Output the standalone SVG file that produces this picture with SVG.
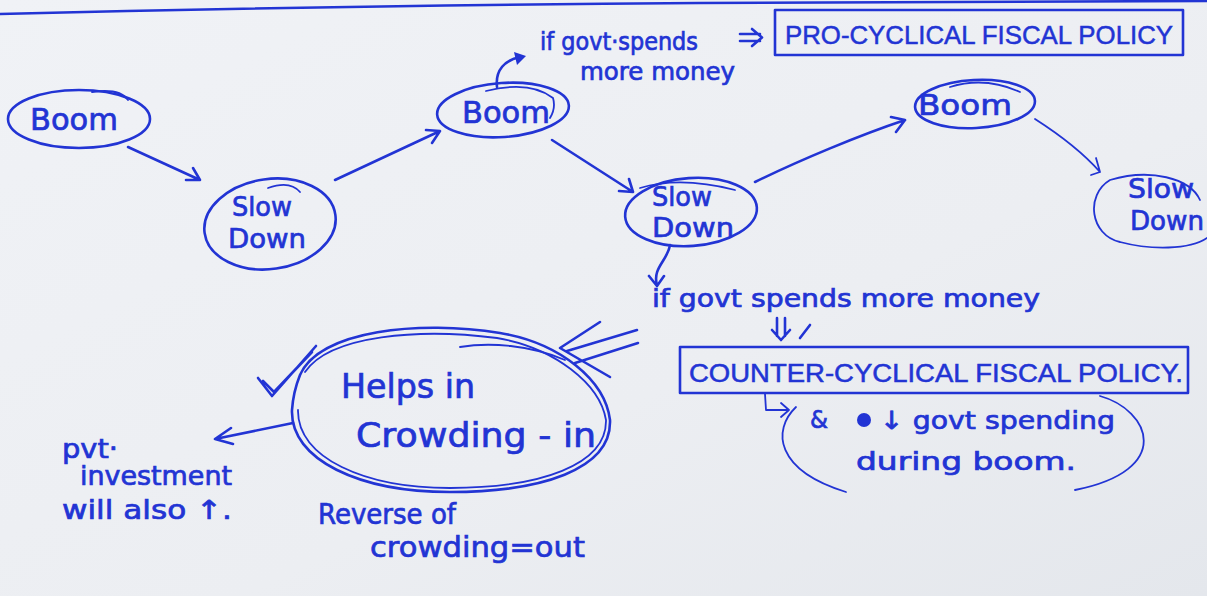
<svg xmlns="http://www.w3.org/2000/svg" width="1207" height="596" viewBox="0 0 1207 596">
  <defs>
    <linearGradient id="paper" x1="0" y1="0" x2="1" y2="1">
      <stop offset="0" stop-color="#f0f2f6"/>
      <stop offset="0.6" stop-color="#eceef2"/>
      <stop offset="1" stop-color="#e4e7ec"/>
    </linearGradient>
  </defs>
  <style>
    .ink { fill: none; stroke: #2234d4; stroke-width: 2.6; stroke-linecap: round; stroke-linejoin: round; }
    .thin { fill: none; stroke: #2234d4; stroke-width: 1.8; stroke-linecap: round; stroke-linejoin: round; }
    .dot { fill: #2234d4; }
    .hand { font-family: "DejaVu Sans", "Liberation Sans", sans-serif; fill: #2234d4; stroke: #2234d4; stroke-width: 0.7; }
    .caps { font-family: "Liberation Sans", "DejaVu Sans", sans-serif; fill: #2234d4; stroke: #2234d4; stroke-width: 0.5; }
  </style>

  <!-- sheet -->
  <rect width="1207" height="596" fill="url(#paper)"/>
  <path class="ink" d="M0 14 C 200 9, 420 5, 700 3 S 1100 1, 1207 1"/>

  <!-- cycle nodes -->
  <g id="boom-1">
    <ellipse class="ink" cx="79" cy="119" rx="71" ry="29"/>
    <path class="thin" d="M92 92 Q 120 88 128 100"/>
    <text class="hand" x="30" y="130" font-size="31" textLength="88" lengthAdjust="spacingAndGlyphs">Boom</text>
  </g>

  <g id="slowdown-1">
    <ellipse class="ink" cx="270" cy="224" rx="66" ry="45" transform="rotate(-8 270 224)"/>
    <path class="thin" d="M268 188 Q 290 180 300 192"/>
    <text class="hand" x="232" y="216" font-size="27" textLength="60" lengthAdjust="spacingAndGlyphs">Slow</text>
    <text class="hand" x="228" y="248" font-size="27" textLength="78" lengthAdjust="spacingAndGlyphs">Down</text>
  </g>

  <g id="boom-2">
    <ellipse class="ink" cx="503" cy="110" rx="66" ry="27" transform="rotate(-4 503 110)"/>
    <path class="thin" d="M486 91 Q 530 80 553 98 Q 556 108 550 118"/>
    <text class="hand" x="462" y="123" font-size="30" textLength="88" lengthAdjust="spacingAndGlyphs">Boom</text>
  </g>

  <g id="slowdown-2">
    <ellipse class="ink" cx="691" cy="212" rx="66" ry="34" transform="rotate(-4 691 212)"/>
    <path class="thin" d="M640 188 Q 680 176 735 190"/>
    <text class="hand" x="652" y="206" font-size="27" textLength="60" lengthAdjust="spacingAndGlyphs">Slow</text>
    <text class="hand" x="652" y="237" font-size="27" textLength="82" lengthAdjust="spacingAndGlyphs">Down</text>
  </g>

  <g id="boom-3">
    <ellipse class="ink" cx="975" cy="104" rx="60" ry="24" transform="rotate(-3 975 104)"/>
    <path class="thin" d="M950 87 Q 985 76 1020 92"/>
    <text class="hand" x="918" y="115" font-size="28" textLength="94" lengthAdjust="spacingAndGlyphs">Boom</text>
  </g>

  <g id="slowdown-3">
    <path class="thin" d="M1200 200 C 1190 178, 1150 168, 1110 180 C 1085 195, 1090 235, 1120 242 C 1150 250, 1190 250, 1207 238"/>
    <text class="hand" x="1128" y="198" font-size="27" textLength="66" lengthAdjust="spacingAndGlyphs">Slow</text>
    <text class="hand" x="1130" y="230" font-size="27" textLength="74" lengthAdjust="spacingAndGlyphs">Down</text>
  </g>

  <!-- policy labels -->
  <g id="pro-cyclical-note">
    <text class="hand" x="540" y="50" font-size="24" textLength="158" lengthAdjust="spacingAndGlyphs">if govt·spends</text>
    <text class="hand" x="580" y="80" font-size="24" textLength="155" lengthAdjust="spacingAndGlyphs">more money</text>
    <path class="ink" d="M740 34 L 760 34 M 740 41 L 760 41 M 752 29 L 762 37.5 L 752 46"/>
  </g>

  <g id="pro-cyclical-box">
    <rect class="ink" x="775" y="10" width="408" height="45"/>
    <text class="caps" x="785" y="44" font-size="26" textLength="388" lengthAdjust="spacingAndGlyphs">PRO-CYCLICAL FISCAL POLICY</text>
  </g>

  <g id="counter-cyclical-note">
    <text class="hand" x="652" y="307" font-size="25" textLength="388" lengthAdjust="spacingAndGlyphs">if govt spends more money</text>
    <path class="ink" d="M777 318 L 777 336 M 785 318 L 785 336 M 772 330 L 781 340 L 790 330 M 800 338 L 810 325"/>
  </g>

  <g id="counter-cyclical-box">
    <rect class="ink" x="680" y="347" width="508" height="46"/>
    <text class="caps" x="689" y="382" font-size="25" textLength="494" lengthAdjust="spacingAndGlyphs">COUNTER-CYCLICAL FISCAL POLICY.</text>
  </g>

  <g id="boom-spending-note">
    <path class="thin" d="M796 407 C 772 430, 775 470, 846 492"/>
    <path class="thin" d="M1100 396 C 1150 410, 1175 470, 1075 490"/>
    <text class="hand" x="810" y="428" font-size="24" textLength="18" lengthAdjust="spacingAndGlyphs">&amp;</text>
    <circle class="dot" cx="864" cy="420" r="7"/>
    <text class="hand" x="880" y="429" font-size="25" textLength="235" lengthAdjust="spacingAndGlyphs">↓ govt spending</text>
    <text class="hand" x="856" y="470" font-size="25" textLength="220" lengthAdjust="spacingAndGlyphs">during boom.</text>
  </g>

  <g id="crowding-in">
    <path class="ink" d="M300 375 C 320 330, 420 320, 500 333 C 560 343, 605 380, 610 420 C 612 470, 540 492, 450 492 C 360 492, 290 460, 292 410 C 293 395, 296 385, 300 375 Z"/>
    <path class="thin" d="M305 372 C 330 335, 420 328, 497 338 C 555 348, 600 384, 606 420 C 607 465, 540 488, 450 488 C 365 488, 297 458, 298 410"/>
    <path class="thin" d="M460 347 C 490 342, 530 345, 565 360"/>
    <text class="hand" x="341" y="398" font-size="33" textLength="134" lengthAdjust="spacingAndGlyphs">Helps in</text>
    <text class="hand" x="356" y="447" font-size="33" textLength="240" lengthAdjust="spacingAndGlyphs">Crowding - in</text>
  </g>

  <g id="tick">
    <path class="ink" d="M258 378 L 272 396 L 316 346 M 263 381 L 274 392 L 312 352"/>
  </g>

  <g id="private-investment">
    <text class="hand" x="62" y="458" font-size="26" textLength="56" lengthAdjust="spacingAndGlyphs">pvt·</text>
    <text class="hand" x="80" y="485" font-size="26" textLength="152" lengthAdjust="spacingAndGlyphs">investment</text>
    <text class="hand" x="62" y="519" font-size="26" textLength="170" lengthAdjust="spacingAndGlyphs">will also ↑.</text>
  </g>

  <g id="reverse-note">
    <text class="hand" x="318" y="524" font-size="28" textLength="138" lengthAdjust="spacingAndGlyphs">Reverse of</text>
    <text class="hand" x="370" y="557" font-size="28" textLength="215" lengthAdjust="spacingAndGlyphs">crowding=out</text>
  </g>

  <!-- connectors -->
  <g id="connectors">
    <path class="ink" d="M128 147 L 200 180 M 186 180 L 200 180 L 193 168"/>
    <path class="ink" d="M335 180 L 440 131 M 426 130 L 440 131 L 432 143"/>
    <path class="ink" d="M497 87 C 495 70, 505 60, 520 57"/>
    <path class="dot" d="M514 52 L 526 56 L 517 65 Z"/>
    <path class="ink" d="M552 140 L 633 192 M 619 191 L 633 192 L 629 179"/>
    <path class="ink" d="M755 182 C 800 160, 860 135, 905 120 M 891 117 L 905 120 L 896 132"/>
    <path class="thin" d="M1035 119 C 1060 135, 1085 155, 1100 172 M 1096 158 L 1100 172 L 1091 175"/>
    <path class="ink" d="M670 245 C 668 260, 652 268, 657 285 M 649 276 L 657 286 L 664 276"/>
    <path class="thin" d="M765 394 L 766 410 L 788 410 M 781 403 L 789 410 L 781 417"/>
    <path class="ink" d="M293 423 L 215 439 M 231 428 L 215 439 L 233 444"/>
    <path class="ink" d="M600 322 L 560 348 L 610 377 M 637 330 L 567 351 M 638 343 L 575 363"/>
  </g>
</svg>
